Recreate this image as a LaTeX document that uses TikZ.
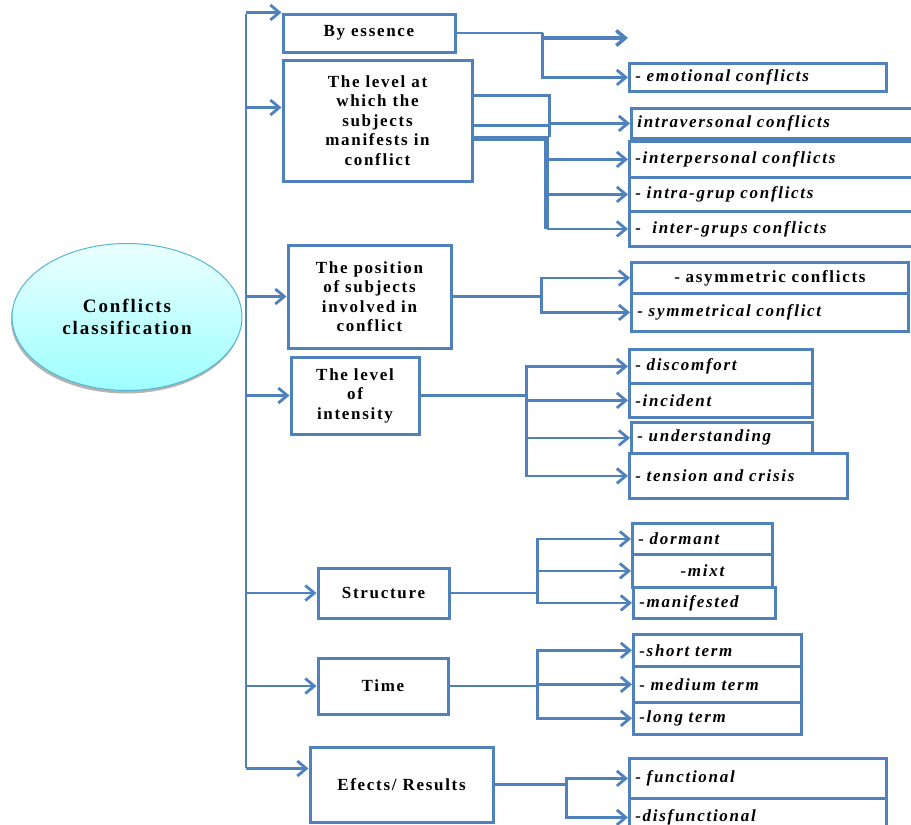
\documentclass[tikz,border=0pt]{standalone}
\usepackage{fontspec}
\setmainfont{Liberation Serif}
\newfontfamily\widefont[LetterSpace=10]{Liberation Serif}
\usetikzlibrary{arrows.meta}
\usetikzlibrary{shapes.geometric}
\usetikzlibrary{shadows}

\definecolor{boxblue}{RGB}{79,129,189}
\definecolor{ovalline}{RGB}{86,182,210}

\begin{document}
\begin{tikzpicture}[x=1pt, y=-1pt, >={Straight Barb[length=9pt, width=15pt]},
    conn/.style={draw=boxblue, line width=2.8pt},
    cat/.style={draw=boxblue, line width=3pt, align=center,
        font=\widefont\bfseries\fontsize{17}{19.5}\selectfont},
    itm/.style 2 args={draw=boxblue, line width=2.8pt, anchor=north west,
        text width=#1, minimum height=#2, inner xsep=6pt, inner ysep=2pt, align=left,
        font=\widefont\bfseries\itshape\fontsize{17}{19}\selectfont}]
        \clip (0,0) rectangle (911,825);

        % Root
        \node[ellipse, draw=ovalline, line width=1pt, top color=cyan!8, bottom color=cyan!38,
            drop shadow={shadow xshift=-1pt, shadow yshift=-3pt, opacity=0.6},
            minimum width=230pt, minimum height=147pt, align=center,
            font=\widefont\bfseries\fontsize{19}{22}\selectfont] (root) at (127,317)
            {Conflicts\\classification};

        % Criteria
        \node[cat, minimum width=172pt, minimum height=38pt] (essence) at (369,33) {By essence};
        \node[cat, minimum width=189pt, minimum height=121pt] (level) at (377.5,120.5)
            {The level at\\which the\\subjects\\manifests in\\conflict};
        \node[cat, minimum width=163pt, minimum height=103pt] (position) at (369.5,296.5)
            {The position\\of subjects\\involved in\\conflict};
        \node[cat, minimum width=128pt, minimum height=77pt] (intensity) at (355,395.5)
            {The level\\of\\intensity};
        \node[cat, minimum width=131pt, minimum height=50pt] (structure) at (383.5,593) {Structure};
        \node[cat, minimum width=130pt, minimum height=56pt] (time) at (383,686) {Time};
        \node[cat, minimum width=183pt, minimum height=75pt] (effects) at (401.5,784.5) {Efects/ Results};

        % Types
        \node[itm={245pt}{28pt}] (emo) at (628,62) {- emotional conflicts};
        \node[itm={273pt}{30pt}] (intra) at (630,107) {intraversonal conflicts};
        \node[itm={275pt}{36pt}] (inter) at (628,140) {-interpersonal conflicts};
        \node[itm={275pt}{34pt}] (intragr) at (628,176) {- intra-grup conflicts};
        \node[itm={275pt}{35pt}] (intergr) at (628,210) {-\ \ inter-grups conflicts};
        \node[itm={265pt}{31pt}, align=center, font=\widefont\bfseries\fontsize{17}{19}\selectfont]
            (asym) at (630,261) {- asymmetric conflicts};
        \node[itm={265pt}{38pt}] (sym) at (630,292) {- symmetrical conflict};
        \node[itm={171pt}{34pt}] (discomfort) at (628,348) {- discomfort};
        \node[itm={171pt}{34pt}] (incident) at (628,382) {-incident};
        \node[itm={169pt}{31pt}] (understanding) at (630,421) {- understanding};
        \node[itm={206pt}{45pt}] (tension) at (628,452) {- tension and crisis};
        \node[itm={128pt}{31pt}] (dormant) at (631,522) {- dormant};
        \node[itm={128pt}{33pt}, align=center] (mixt) at (631,553) {-mixt};
        \node[itm={130pt}{31pt}] (manifested) at (632,586) {-manifested};
        \node[itm={156pt}{32pt}] (short) at (632,633) {-short term};
        \node[itm={156pt}{36pt}] (medium) at (632,665) {- medium term};
        \node[itm={156pt}{32pt}] (long) at (632,701) {-long term};
        \node[itm={245pt}{40pt}] (functional) at (628,757) {- functional};
        \node[itm={245pt}{38pt}] (disfunctional) at (628,797) {-disfunctional};

        % Trunk and arrows to the criteria
        \coordinate (t0) at (246,14);
        \coordinate (t1) at (246,768);
        \coordinate (lv) at ([yshift=13pt]level.west);
        \coordinate (ef) at ([yshift=16pt]effects.west);
        \draw[conn, line width=2pt] (t0) -- (t1);
        \foreach \n in {essence.north west, lv, position.west, intensity.west, structure.west, time.west, ef} {
            \draw[conn, ->] (t0 |- \n) -- (\n);
        }

        % By essence
        \draw[conn] (essence.east) -- ++(86,0) coordinate (e1);
        \coordinate (e2) at (628,38);
        \draw[conn, line width=3.5pt, ->] (e1 |- e2) -- (e2);
        \draw[conn, ->] (e1) |- (emo.west);

        % Level of the subjects
        \draw[conn, ->] ([yshift=25pt]level.east) -- ++(76,0) |- (intra.west);
        \draw[conn] ([yshift=-5pt]level.east) -| ++(76,11);
        \draw[conn, line width=4.5pt] ([yshift=-18pt]level.east) -- ++(73,0) coordinate (l3)
            -- (l3 |- intergr.west);
        \foreach \b in {inter, intragr, intergr} {
            \draw[conn, ->] (l3 |- \b.west) -- (\b.west);
        }

        % Position
        \draw[conn] (position.east) -- ++(89,0) coordinate (p1);
        \foreach \b in {asym, sym} {
            \draw[conn, ->] (p1) |- (\b.west);
        }

        % Intensity
        \draw[conn] (intensity.east) -- ++(106,0) coordinate (i1);
        \foreach \b in {discomfort, incident, understanding, tension} {
            \draw[conn, ->] (i1) |- (\b.west);
        }

        % Structure
        \draw[conn] (structure.east) -- ++(87,0) coordinate (s1);
        \foreach \b in {dormant, mixt, manifested} {
            \draw[conn, ->] (s1) |- (\b.west);
        }

        % Time
        \draw[conn] (time.east) -- ++(88,0) coordinate (tm1);
        \foreach \b in {short, medium, long} {
            \draw[conn, ->] (tm1) |- (\b.west);
        }

        % Effects
        \draw[conn] (effects.east) -- ++(72,0) coordinate (ef1);
        \foreach \b in {functional, disfunctional} {
            \draw[conn, ->] (ef1) |- (\b.west);
        }
\end{tikzpicture}
\end{document}
